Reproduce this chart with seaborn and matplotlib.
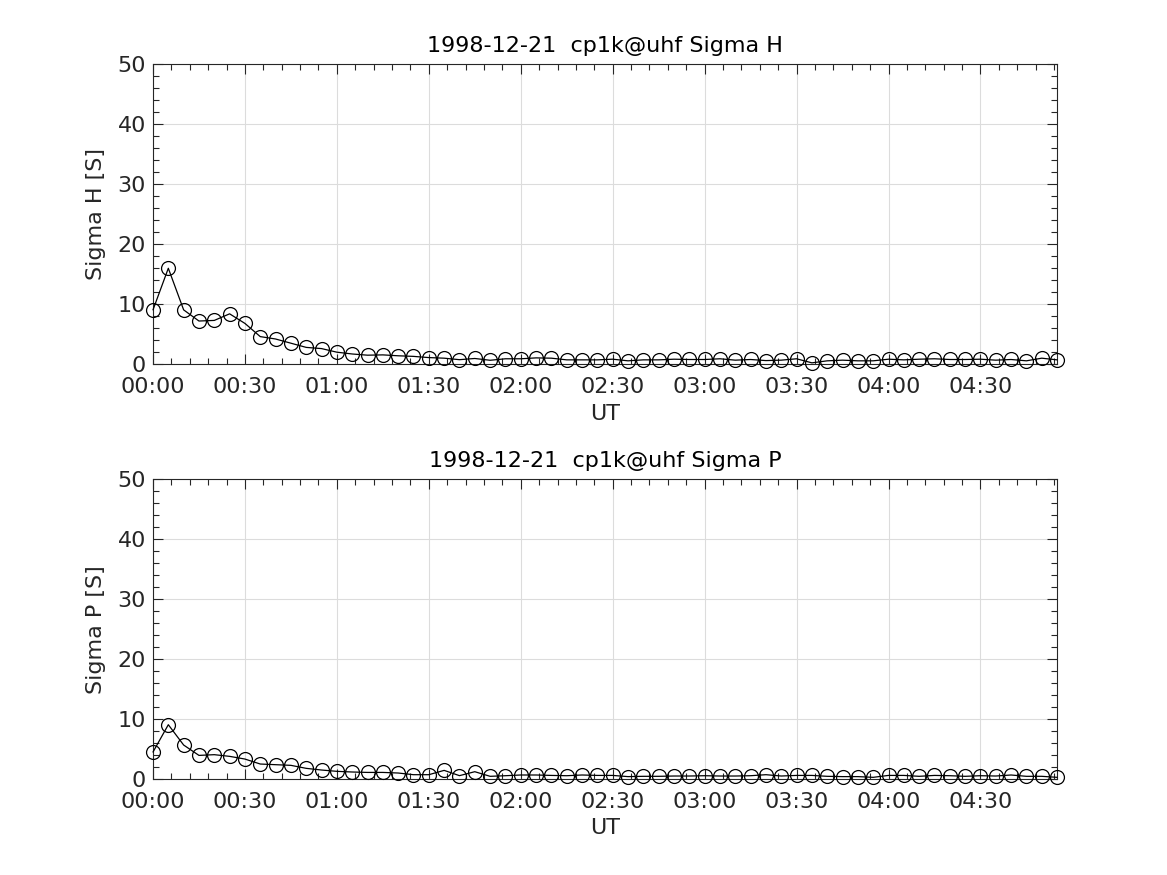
import numpy as np
import pandas as pd
import matplotlib
matplotlib.use("Agg")
import matplotlib.pyplot as plt
import matplotlib.dates as mdates
import seaborn as sns

# ---- data ----
times = pd.date_range("1998-12-21 00:00", periods=60, freq="5min")
sigma_h = [9.06, 16.0, 9.06, 7.2, 7.3, 8.4, 6.8, 4.6, 4.2, 3.5,
           2.8, 2.6, 2.0, 1.7, 1.5, 1.55, 1.4, 1.3, 1.1, 1.0,
           0.75, 0.95, 0.65, 0.9, 0.9, 1.05, 1.0, 0.72, 0.72, 0.72,
           0.83, 0.56, 0.72, 0.72, 0.83, 0.78, 0.78, 0.9, 0.67, 0.78,
           0.6, 0.67, 0.9, 0.22, 0.56, 0.67, 0.56, 0.56, 0.83, 0.72,
           0.83, 0.9, 0.78, 0.78, 0.83, 0.67, 0.78, 0.56, 1.0, 0.72]
sigma_p = [4.5, 9.06, 5.67, 3.94, 4.06, 3.78, 3.33, 2.5, 2.39, 2.28,
           1.78, 1.5, 1.28, 1.17, 1.1, 1.1, 1.0, 0.72, 0.72, 1.44,
           0.56, 1.22, 0.45, 0.55, 0.67, 0.67, 0.6, 0.55, 0.67, 0.6,
           0.6, 0.4, 0.45, 0.45, 0.5, 0.5, 0.55, 0.5, 0.5, 0.55,
           0.72, 0.5, 0.6, 0.6, 0.45, 0.4, 0.4, 0.28, 0.6, 0.6,
           0.45, 0.6, 0.55, 0.45, 0.55, 0.5, 0.67, 0.45, 0.45, 0.28]
titles = ["1998-12-21  cp1k@uhf Sigma H", "1998-12-21  cp1k@uhf Sigma P"]
ylabels = ["Sigma H [S]", "Sigma P [S]"]
xlabel = "UT"
yticks = [0, 10, 20, 30, 40, 50]

sns.set_style("white")
plt.rcParams["font.family"] = ["DejaVu Sans"]
FS = 16
DARK = "#262626"

fig = plt.figure(figsize=(11.67, 8.75), dpi=100)
positions = [[0.1311, 0.5838, 0.7747, 0.3425], [0.1311, 0.1097, 0.7747, 0.3425]]

for pos, vals, title, ylab in zip(positions, [sigma_h, sigma_p], titles, ylabels):
    ax = fig.add_axes(pos)
    df = pd.DataFrame({"t": times, "v": vals})
    sns.lineplot(data=df, x="t", y="v", ax=ax, color="black", lw=0.9,
                 marker="o", markersize=10, markerfacecolor="none",
                 markeredgecolor="black", markeredgewidth=0.9, zorder=3,
                 clip_on=False)
    ax.set_xlim(times[0], times[-1])
    ax.set_ylim(0, 50)
    ax.set_yticks(yticks)
    ax.yaxis.set_minor_locator(matplotlib.ticker.MultipleLocator(2))
    ax.xaxis.set_major_locator(mdates.MinuteLocator(byminute=[0, 30]))
    ax.xaxis.set_minor_locator(mdates.MinuteLocator(byminute=range(0, 60, 6)))
    ax.xaxis.set_major_formatter(mdates.DateFormatter("%H:%M"))
    ax.grid(True, which="major", color="#dcdcdc", lw=0.8)
    ax.set_axisbelow(True)
    ax.tick_params(which="both", direction="in", top=True, right=True,
                   bottom=True, left=True,
                   colors=DARK, labelsize=FS, width=0.8)
    ax.tick_params(which="major", length=7)
    ax.tick_params(which="minor", length=4)
    ax.tick_params(axis="x", which="major", pad=9)
    ax.tick_params(axis="y", which="major", pad=5)
    for sp in ax.spines.values():
        sp.set_color(DARK)
        sp.set_linewidth(0.8)
    ax.set_title(title, fontsize=FS, color="black", pad=9)
    ax.set_ylabel(ylab, fontsize=FS, color=DARK, labelpad=8)
    ax.set_xlabel(xlabel, fontsize=FS, color=DARK, labelpad=5)

fig.savefig("out.png", dpi=100, facecolor="white")
